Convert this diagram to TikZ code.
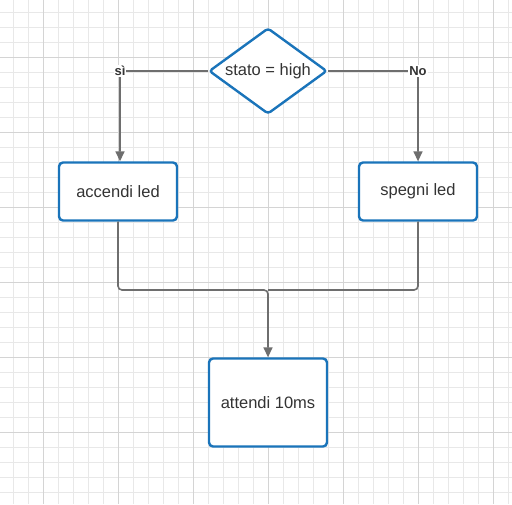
\documentclass[tikz,border=0pt]{standalone}
\usepackage{fontspec}
\setmainfont{Liberation Sans}
\usepackage{tikz}
\usetikzlibrary{calc,positioning,arrows.meta,shapes.geometric}

\definecolor{boxblue}{HTML}{1A74BA}
\definecolor{linegray}{HTML}{6E6E6E}
\definecolor{textgray}{HTML}{333333}
\definecolor{gridminor}{HTML}{E8E8E8}
\definecolor{gridmajor}{HTML}{D4D4D4}

\begin{document}
\begin{tikzpicture}[x=1pt, y=-1pt,
  every node/.style={text=textgray, font=\fontsize{16.5}{19}\selectfont},
  block/.style={draw=boxblue, line width=2.4pt, fill=white, rounded corners=4pt,
                minimum width=118pt, inner sep=0pt},
  decision/.style={draw=boxblue, line width=2.4pt, fill=white, diamond, aspect=1.36,
                   rounded corners=3pt, minimum width=118pt, minimum height=86pt, inner sep=0pt},
  conn/.style={draw=linegray, line width=1.6pt, rounded corners=4pt},
  arr/.style={-{Triangle[length=10pt, width=9pt]}},
  lab/.style={fill=white, inner sep=1pt, text=textgray,
              font=\fontsize{13}{15}\selectfont\bfseries}]
  \useasboundingbox (0,0) rectangle (512,504);
  \fill[white] (0,0) rectangle (512,504);

  % ---- Grid paper ---------------------------------------------
  \foreach \gx in {0,...,33}
    \draw[gridminor, line width=0.6pt] (13.5+15*\gx,0) -- (13.5+15*\gx,504);
  \foreach \gy in {0,...,33}
    \draw[gridminor, line width=0.6pt] (0,12.5+15*\gy) -- (512,12.5+15*\gy);
  \foreach \gx in {0,...,6}
    \draw[gridmajor, line width=0.6pt] (43.5+75*\gx,0) -- (43.5+75*\gx,504);
  \foreach \gy in {0,...,5}
    \draw[gridmajor, line width=0.6pt] (0,57.5+75*\gy) -- (512,57.5+75*\gy);

  % ---- Blocks -------------------------------------------------
  \node[decision] (stato)   at (268, 71)    {stato = high};
  \node[block, minimum height=58pt] (accendi) at (118, 191.5) {accendi led};
  \node[block, minimum height=58pt] (spegni)  at (418, 191.5) {spegni led};
  \node[block, minimum height=88pt] (attendi) at (268, 402.5) {attendi 10ms};

  % ---- Branches -----------------------------------------------
  \coordinate (accin) at ([xshift=2pt]accendi.north);
  \coordinate (si)    at (stato.west -| accin);
  \coordinate (no)    at (stato.east -| spegni.north);
  \coordinate (join)  at (268, 290);

  \draw[conn, arr] (stato.west) -- (si) -- (accin);
  \draw[conn, arr] (stato.east) -- (no) -- (spegni.north);
  \node[lab] (silab) at (si) {sì};
  \node[lab] (nolab) at (no) {No};

  % ---- Merge --------------------------------------------------
  \draw[conn] (spegni.south) |- (join);
  \draw[conn, arr] (accendi.south) |- (join) -- (attendi.north);

\end{tikzpicture}
\end{document}
